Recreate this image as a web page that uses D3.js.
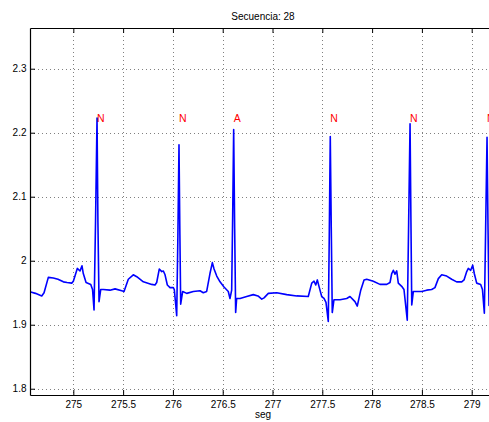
<!DOCTYPE html>
<html>
<head>
<meta charset="utf-8">
<script src="https://cdn.jsdelivr.net/npm/d3@7"></script>
<style>
  html, body { margin: 0; padding: 0; background: #fff; }
  svg { display: block; font-family: "Liberation Sans", Arial, sans-serif; }
</style>
</head>
<body>
<svg id="chart" width="489" height="422"></svg>
<script>
// ECG segment, seconds vs. amplitude
const sampleTimes = [
  274.572, 274.620, 274.683, 274.706, 274.749, 274.799, 274.846, 274.900, 274.937, 274.984,
  275.000, 275.040, 275.067, 275.087, 275.100, 275.128, 275.175, 275.193, 275.208, 275.223,
  275.238, 275.247, 275.258, 275.275, 275.301, 275.368, 275.419, 275.486, 275.509, 275.552,
  275.602, 275.637, 275.703, 275.787, 275.820, 275.837, 275.863, 275.888, 275.904, 275.921,
  275.944, 275.971, 276.004, 276.014, 276.038, 276.050, 276.061, 276.070, 276.078, 276.098,
  276.139, 276.205, 276.272, 276.305, 276.339, 276.372, 276.396, 276.413, 276.440, 276.473,
  276.513, 276.556, 276.573, 276.590, 276.600, 276.610, 276.620, 276.630, 276.640, 276.674,
  276.741, 276.807, 276.854, 276.892, 276.915, 276.958, 277.042, 277.143, 277.243, 277.359,
  277.394, 277.417, 277.434, 277.450, 277.470, 277.494, 277.517, 277.537, 277.560, 277.570,
  277.580, 277.590, 277.600, 277.617, 277.678, 277.745, 277.778, 277.828, 277.851, 277.886,
  277.919, 277.946, 278.012, 278.079, 278.147, 278.180, 278.197, 278.213, 278.230, 278.247,
  278.263, 278.297, 278.320, 278.353, 278.367, 278.381, 278.390, 278.398, 278.414, 278.498,
  278.548, 278.598, 278.631, 278.665, 278.699, 278.749, 278.799, 278.849, 278.900, 278.923,
  278.950, 278.966, 278.990, 279.010, 279.026, 279.050, 279.090, 279.108, 279.127, 279.140,
  279.154, 279.164, 279.174, 279.194
];
const sampleValues = [
  1.951, 1.949, 1.945, 1.950, 1.974, 1.973, 1.971, 1.967, 1.966, 1.965,
  1.968, 1.988, 1.984, 1.992, 1.980, 1.966, 1.963, 1.955, 1.923, 2.060,
  2.223, 2.060, 1.936, 1.955, 1.955, 1.954, 1.956, 1.953, 1.952, 1.971,
  1.978, 1.975, 1.967, 1.963, 1.962, 1.966, 1.987, 1.983, 1.984, 1.978,
  1.962, 1.958, 1.958, 1.955, 1.914, 2.040, 2.181, 2.040, 1.932, 1.952,
  1.949, 1.952, 1.953, 1.950, 1.952, 1.980, 1.997, 1.987, 1.976, 1.967,
  1.959, 1.952, 1.941, 1.954, 2.070, 2.205, 2.050, 1.919, 1.941, 1.941,
  1.944, 1.947, 1.945, 1.940, 1.942, 1.949, 1.950, 1.947, 1.945, 1.944,
  1.965, 1.968, 1.962, 1.970, 1.958, 1.944, 1.941, 1.935, 1.905, 2.040,
  2.194, 2.050, 1.919, 1.939, 1.939, 1.941, 1.944, 1.936, 1.929, 1.954,
  1.970, 1.971, 1.968, 1.963, 1.963, 1.966, 1.980, 1.985, 1.979, 1.984,
  1.965, 1.960, 1.955, 1.907, 2.060, 2.214, 2.060, 1.931, 1.952, 1.952,
  1.954, 1.955, 1.958, 1.972, 1.978, 1.976, 1.971, 1.967, 1.967, 1.970,
  1.983, 1.988, 1.985, 1.993, 1.980, 1.965, 1.963, 1.955, 1.918, 2.050,
  2.193, 2.050, 1.930, 1.950
];

// Beat annotations
const beatTimes = [275.238, 276.061, 276.610, 277.580, 278.381, 279.154];
const beatLabels = ["N", "N", "A", "N", "N", "N"];

// Axis ticks
const xTicks = [275, 275.5, 276, 276.5, 277, 277.5, 278, 278.5, 279];
const xTickLabels = ["275", "275.5", "276", "276.5", "277", "277.5", "278", "278.5", "279"];
const yTicks = [1.8, 1.9, 2.0, 2.1, 2.2, 2.3];
const yTickLabels = ["1.8", "1.9", "2", "2.1", "2.2", "2.3"];

const titleText = "Secuencia: 28";
const xLabelText = "seg";

const svg = d3.select("#chart");
const plotLeft = 30, plotRight = 496, plotTop = 28, plotBottom = 395;
const labelLevel = 2.223;

const x = d3.scaleLinear().domain([274.565, 279.244]).range([plotLeft, plotRight]);
const y = d3.scaleLinear().domain([1.7902, 2.3636]).range([plotBottom, plotTop]);

svg.append("rect").attr("width", 489).attr("height", 422).attr("fill", "#fff");

svg.append("defs").append("clipPath").attr("id", "plotClip")
  .append("rect").attr("x", plotLeft).attr("y", plotTop)
  .attr("width", plotRight - plotLeft).attr("height", plotBottom - plotTop);

// dotted grid
const grid = svg.append("g").attr("stroke", "#808080").attr("stroke-width", 1)
  .attr("stroke-dasharray", "1,3").attr("shape-rendering", "crispEdges");
grid.selectAll("line.gx").data(xTicks).join("line").attr("class", "gx")
  .attr("x1", d => Math.round(x(d)) + 0.5).attr("x2", d => Math.round(x(d)) + 0.5)
  .attr("y1", plotTop).attr("y2", plotBottom);
grid.selectAll("line.gy").data(yTicks).join("line").attr("class", "gy")
  .attr("x1", plotLeft).attr("x2", plotRight)
  .attr("y1", d => Math.round(y(d)) + 0.5).attr("y2", d => Math.round(y(d)) + 0.5);

// signal
const points = sampleTimes.map((t, i) => [t, sampleValues[i]]);
svg.append("path")
  .datum(points)
  .attr("clip-path", "url(#plotClip)")
  .attr("fill", "none")
  .attr("stroke", "#0000ff")
  .attr("stroke-width", 1.6)
  .attr("stroke-linejoin", "round")
  .attr("d", d3.line().x(d => x(d[0])).y(d => y(d[1])));

// beat labels
svg.append("g").selectAll("text").data(beatTimes).join("text")
  .attr("x", d => x(d))
  .attr("y", y(labelLevel))
  .attr("dy", "0.35em")
  .attr("fill", "#ff0000")
  .attr("font-size", 10.5)
  .text((d, i) => beatLabels[i]);

// axes (ticks drawn inward)
const xAxisBottom = d3.axisBottom(x).tickValues(xTicks)
  .tickFormat((d, i) => xTickLabels[i]).tickSizeInner(-5).tickSizeOuter(0).tickPadding(6);
const gxb = svg.append("g").attr("transform", `translate(0,${plotBottom})`).call(xAxisBottom);
const xAxisTop = d3.axisTop(x).tickValues(xTicks).tickFormat("").tickSizeInner(-5).tickSizeOuter(0);
const gxt = svg.append("g").attr("transform", `translate(0,${plotTop})`).call(xAxisTop);
const yAxisLeft = d3.axisLeft(y).tickValues(yTicks)
  .tickFormat((d, i) => yTickLabels[i]).tickSizeInner(-5).tickSizeOuter(0).tickPadding(3.5);
const gyl = svg.append("g").attr("transform", `translate(${plotLeft},0)`).call(yAxisLeft);

[gxb, gxt, gyl].forEach(g => {
  g.select(".domain").attr("stroke", "#000").attr("stroke-width", 1.2);
  g.selectAll(".tick line").attr("stroke", "#000");
  g.selectAll(".tick text").attr("fill", "#000").attr("font-size", 10)
    .attr("font-family", "'Liberation Sans', Arial, sans-serif");
});

// title and axis label
svg.append("text").attr("x", (plotLeft + plotRight) / 2).attr("y", 20)
  .attr("text-anchor", "middle").attr("font-size", 10).attr("fill", "#000").text(titleText);
svg.append("text").attr("x", (plotLeft + plotRight) / 2).attr("y", 418)
  .attr("text-anchor", "middle").attr("font-size", 10).attr("fill", "#000").text(xLabelText);
</script>
</body>
</html>
